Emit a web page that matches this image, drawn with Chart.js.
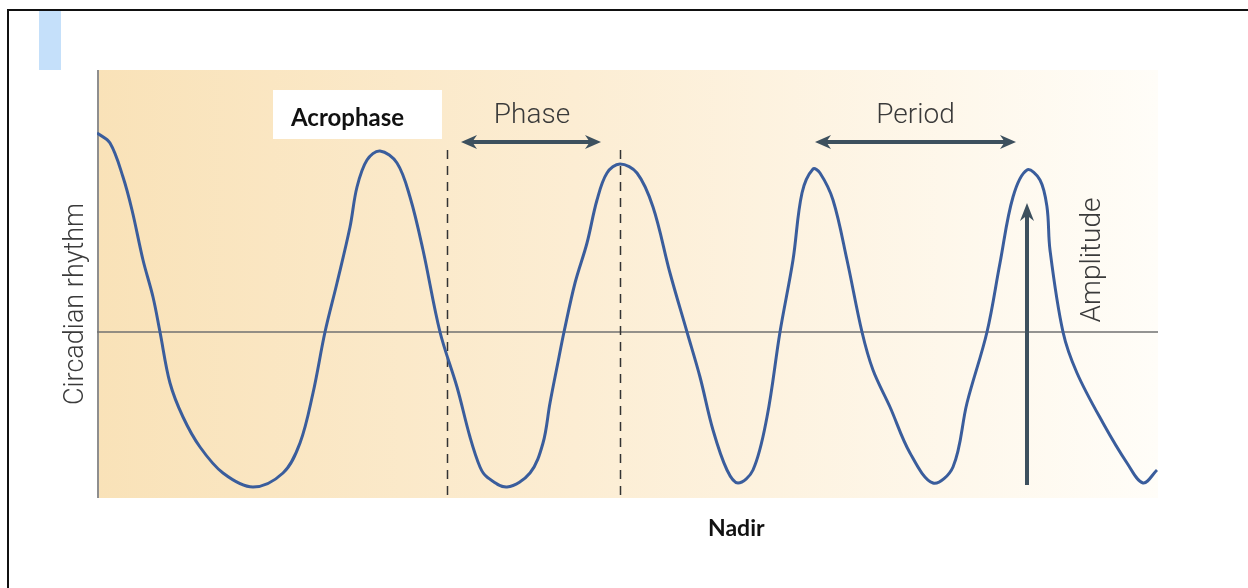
<!DOCTYPE html>
<html>
<head>
<meta charset="utf-8">
<script src="https://cdn.jsdelivr.net/npm/chart.js@4.4.1/dist/chart.umd.min.js"></script>
<style>
  html, body { margin: 0; padding: 0; background: #ffffff; }
  #wrap { width: 1248px; height: 588px; }
</style>
</head>
<body>
<div id="wrap"><canvas id="c" width="1248" height="588"></canvas></div>
<script>
// ---- data (time units along the x axis, rhythm level on y; 0 = mesor line) ----
const timeValues = [0, 13, 26, 35, 46, 56, 63, 73, 86, 103, 126, 156, 186, 203, 216, 228, 240, 253, 260, 270, 283, 300, 313, 326, 343, 360, 373, 383, 390, 410, 433, 446, 453, 462, 467, 478, 490, 500, 510, 523, 540, 556, 573, 590, 603, 616, 630, 641, 656, 670, 683, 696, 705, 716, 723, 736, 750, 765, 776, 793, 813, 836, 856, 870, 890, 903, 916, 930, 943, 950, 953, 966, 980, 1006, 1030, 1046, 1060];
const rhythmValues = [199, 189, 155, 122, 72, 35, 0, -51, -85, -115, -141, -155, -141, -111, -61, 0, 49, 105, 145, 172, 181, 169, 135, 82, 0, -55, -105, -135, -145, -155, -141, -111, -71, -25, 0, 49, 89, 132, 159, 168, 159, 125, 59, 0, -45, -98, -138, -151, -138, -85, 0, 72, 139, 163, 159, 132, 72, 0, -38, -75, -121, -151, -135, -71, 0, 69, 135, 162, 152, 125, 82, 0, -41, -91, -131, -151, -138];
const xRange = [0, 1061];
const yRange = [-165, 262];
const phaseMarkers = [350, 523];          // dashed vertical lines (time)
const phaseArrow = [364, 504];            // time span
const periodArrow = [718, 919];           // time span
const arrowLevel = 190;                   // level of the horizontal arrows
const amplitudeArrow = { x: 930, from: -153, to: 129 };
const labels = {
  yTitle: 'Circadian rhythm',
  acrophase: 'Acrophase',
  nadir: 'Nadir',
  phase: 'Phase',
  period: 'Period',
  amplitude: 'Amplitude'
};

function drawArrowHead(ctx, x, y, dx, dy, len, half) {
  const px = -dy, py = dx;
  ctx.beginPath();
  ctx.moveTo(x, y);
  ctx.lineTo(x - dx * len + px * half, y - dy * len + py * half);
  ctx.lineTo(x - dx * len * 0.7, y - dy * len * 0.7);
  ctx.lineTo(x - dx * len - px * half, y - dy * len - py * half);
  ctx.closePath();
  ctx.fill();
}

const decor = {
  id: 'decor',
  beforeDraw(chart) {
    const ctx = chart.ctx;
    const a = chart.chartArea;
    const ys = chart.scales.y;
    ctx.save();
    ctx.fillStyle = '#ffffff';
    ctx.fillRect(0, 0, chart.width, chart.height);
    // frame
    ctx.strokeStyle = '#111111';
    ctx.lineWidth = 2;
    ctx.beginPath();
    ctx.moveTo(8, 588);
    ctx.lineTo(8, 10);
    ctx.lineTo(1248, 10);
    ctx.stroke();
    // light blue tab
    ctx.fillStyle = '#c5e0fa';
    ctx.fillRect(39, 11, 22, 59);
    // plot background gradient
    const g = ctx.createLinearGradient(a.left, 0, a.right, 0);
    g.addColorStop(0, '#f9e2b8');
    g.addColorStop(0.45, '#fcedd3');
    g.addColorStop(1, '#fffdf8');
    ctx.fillStyle = g;
    ctx.fillRect(a.left, a.top, a.right - a.left, a.bottom - a.top + 1);
    // left axis line
    ctx.strokeStyle = '#8e8e8e';
    ctx.lineWidth = 2;
    ctx.beginPath();
    ctx.moveTo(a.left + 1, a.top);
    ctx.lineTo(a.left + 1, a.bottom + 1);
    ctx.stroke();
    // mesor line
    const y0 = ys.getPixelForValue(0);
    ctx.strokeStyle = '#707070';
    ctx.lineWidth = 1.5;
    ctx.beginPath();
    ctx.moveTo(a.left, y0);
    ctx.lineTo(a.right, y0);
    ctx.stroke();
    // dashed phase markers
    ctx.strokeStyle = '#333333';
    ctx.lineWidth = 1.5;
    ctx.setLineDash([9, 7]);
    const xs = chart.scales.x;
    phaseMarkers.forEach(t => {
      const px = Math.round(xs.getPixelForValue(t)) + 0.5;
      ctx.beginPath();
      ctx.moveTo(px, a.top + 80);
      ctx.lineTo(px, a.bottom);
      ctx.stroke();
    });
    ctx.setLineDash([]);
    ctx.restore();
  },
  afterDraw(chart) {
    const ctx = chart.ctx;
    const xs = chart.scales.x, ys = chart.scales.y;
    ctx.save();
    const arrowColor = '#3d505e';
    ctx.strokeStyle = arrowColor;
    ctx.fillStyle = arrowColor;
    ctx.lineWidth = 4;
    const ay = ys.getPixelForValue(arrowLevel);
    [phaseArrow, periodArrow].forEach(([t1, t2]) => {
      const x1 = xs.getPixelForValue(t1), x2 = xs.getPixelForValue(t2);
      ctx.beginPath();
      ctx.moveTo(x1 + 8, ay);
      ctx.lineTo(x2 - 8, ay);
      ctx.stroke();
      drawArrowHead(ctx, x1, ay, -1, 0, 16, 7);
      drawArrowHead(ctx, x2, ay, 1, 0, 16, 7);
    });
    // amplitude arrow
    const axp = xs.getPixelForValue(amplitudeArrow.x);
    const yb = ys.getPixelForValue(amplitudeArrow.from);
    const yt = ys.getPixelForValue(amplitudeArrow.to);
    ctx.beginPath();
    ctx.moveTo(axp, yb);
    ctx.lineTo(axp, yt + 10);
    ctx.stroke();
    drawArrowHead(ctx, axp, yt, 0, -1, 18, 7);

    // light labels
    ctx.fillStyle = '#3a3a3a';
    ctx.font = '300 28px Roboto, "Liberation Sans", sans-serif';
    ctx.textAlign = 'center';
    ctx.textBaseline = 'alphabetic';
    ctx.fillText(labels.phase, xs.getPixelForValue((phaseArrow[0] + phaseArrow[1]) / 2) + 1, 123);
    ctx.fillText(labels.period, xs.getPixelForValue((periodArrow[0] + periodArrow[1]) / 2), 123);
    ctx.save();
    ctx.translate(1100, 260);
    ctx.rotate(-Math.PI / 2);
    ctx.fillText(labels.amplitude, 0, 0);
    ctx.restore();
    ctx.save();
    ctx.font = '300 27px Roboto, "Liberation Sans", sans-serif';
    ctx.translate(83, 304);
    ctx.rotate(-Math.PI / 2);
    ctx.fillText(labels.yTitle, 0, 0);
    ctx.restore();

    // acrophase box
    ctx.fillStyle = '#ffffff';
    ctx.fillRect(273, 90, 169, 49);
    ctx.fillStyle = '#111111';
    ctx.textAlign = 'left';
    ctx.font = 'bold 24px Lato, "Open Sans", sans-serif';
    ctx.fillText(labels.acrophase, 291, 126);
    // nadir
    ctx.font = 'bold 23px Lato, "Open Sans", sans-serif';
    ctx.fillText(labels.nadir, 708, 536);
    ctx.restore();
  }
};

new Chart(document.getElementById('c'), {
  type: 'line',
  data: {
    datasets: [{
      data: timeValues.map((t, i) => ({ x: t, y: rhythmValues[i] })),
      borderColor: '#3a5d9c',
      borderWidth: 3,
      pointRadius: 0,
      fill: false,
      tension: 0.35
    }]
  },
  options: {
    responsive: false,
    animation: false,
    devicePixelRatio: 1,
    layout: { padding: { left: 97, top: 70, right: 90, bottom: 91 } },
    scales: {
      x: { type: 'linear', min: xRange[0], max: xRange[1], display: false },
      y: { type: 'linear', min: yRange[0], max: yRange[1], display: false }
    },
    plugins: { legend: { display: false }, tooltip: { enabled: false } }
  },
  plugins: [decor]
});
</script>
</body>
</html>
